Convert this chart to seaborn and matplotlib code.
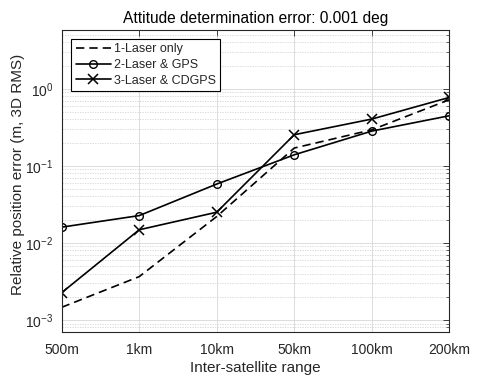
import numpy as np
import pandas as pd
import seaborn as sns
import matplotlib.pyplot as plt
from matplotlib.ticker import LogLocator, LogFormatterSciNotation, NullFormatter

ranges = ['500m', '1km', '10km', '50km', '100km', '200km']
laser_only = [0.00146, 0.00365, 0.022, 0.170, 0.293, 0.72]
laser_gps = [0.016, 0.0226, 0.058, 0.139, 0.282, 0.446]
laser_cdgps = [0.00226, 0.0148, 0.0250, 0.253, 0.404, 0.771]

sns.set_theme(style='white')
plt.rcParams['font.family'] = ['Liberation Sans', 'DejaVu Sans']
plt.rcParams['mathtext.fontset'] = 'custom'
plt.rcParams['mathtext.rm'] = 'Liberation Sans'
plt.rcParams['mathtext.it'] = 'Liberation Sans'

ink = '#262626'
fig = plt.figure(figsize=(4.8, 3.83), dpi=100)
ax = fig.add_axes([0.1285, 0.134, 0.8075, 0.788])

sns.lineplot(x=ranges, y=laser_only, ax=ax, color='black', lw=1.2,
             linestyle=(0, (5, 3)), label='1-Laser only', sort=False)
sns.lineplot(x=ranges, y=laser_gps, ax=ax, color='black', lw=1.2,
             marker='o', markersize=5.5, markerfacecolor='none',
             markeredgecolor='black', markeredgewidth=1.0,
             label='2-Laser & GPS', sort=False)
sns.lineplot(x=ranges, y=laser_cdgps, ax=ax, color='black', lw=1.2,
             marker='x', markersize=6.5, markeredgecolor='black',
             markeredgewidth=1.1, label='3-Laser & CDGPS', sort=False)

ax.set_yscale('log')
ax.set_ylim(7.05e-4, 5.8)
ax.set_xlim(0, 5)
ax.yaxis.set_major_locator(LogLocator(base=10, numticks=10))
ax.yaxis.set_major_formatter(LogFormatterSciNotation())
ax.yaxis.set_minor_locator(LogLocator(base=10, subs=np.arange(2, 10), numticks=20))
ax.yaxis.set_minor_formatter(NullFormatter())

ax.grid(True, which='major', color='#dcdcdc', lw=0.7, ls='-')
ax.grid(True, which='minor', axis='y', color='#d4d4d4', lw=0.6, ls=(0, (1.5, 1.5)))
ax.set_axisbelow(True)

ax.tick_params(axis='both', which='both', direction='in', colors=ink,
               labelsize=10, top=True, right=True)
ax.tick_params(axis='both', which='major', length=4, width=0.6, pad=6)
ax.tick_params(axis='y', which='minor', length=2, width=0.5)
ax.tick_params(axis='x', which='major', pad=8)
for s in ax.spines.values():
    s.set_color(ink)
    s.set_linewidth(0.8)

ax.set_title('Attitude determination error: 0.001 deg', fontsize=11.2, color='black', pad=5)
ax.set_xlabel('Inter-satellite range', fontsize=11, color=ink, labelpad=3)
ax.set_ylabel('Relative position error (m, 3D RMS)', fontsize=11, color=ink)
ax.yaxis.set_label_coords(-0.095, 0.52)

leg = ax.legend(loc='upper left', bbox_to_anchor=(0.025, 0.97), borderaxespad=0,
                fontsize=9, frameon=True, fancybox=False,
                borderpad=0.35, labelspacing=0.3, handlelength=2.8,
                handletextpad=0.25)
leg.get_frame().set_edgecolor('black')
leg.get_frame().set_linewidth(0.8)
leg.get_frame().set_alpha(1)

fig.savefig('out.png', dpi=100)
